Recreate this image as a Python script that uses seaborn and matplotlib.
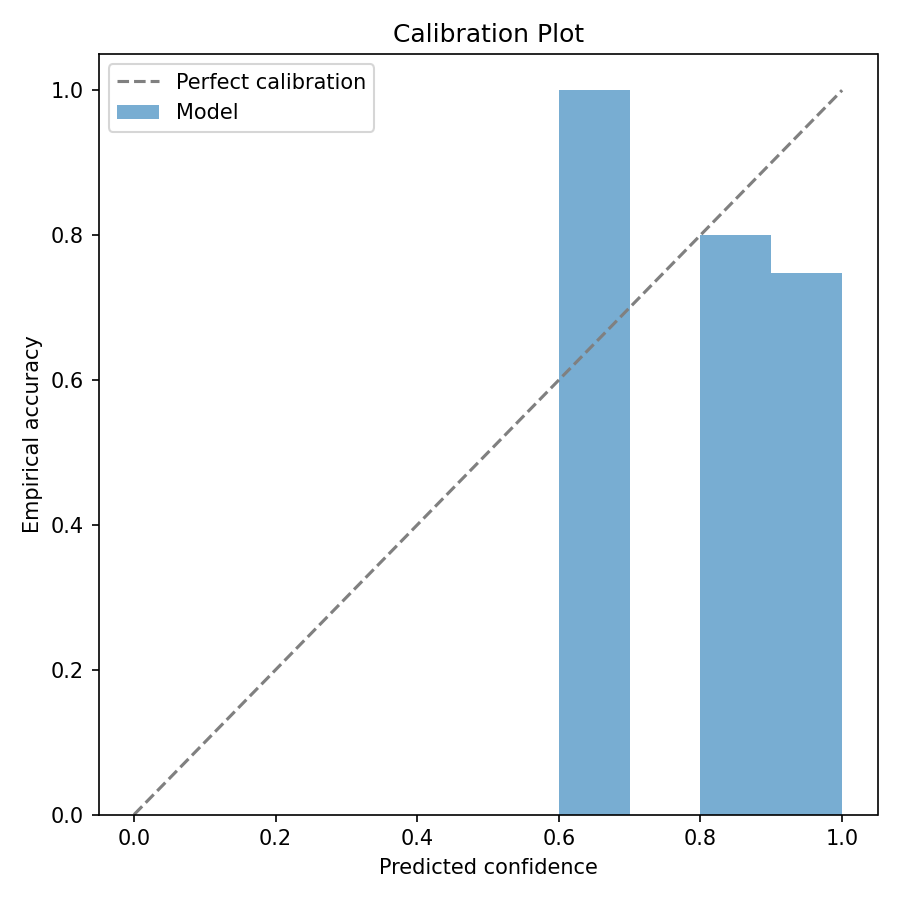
import numpy as np
import matplotlib
matplotlib.use("Agg")
import matplotlib.pyplot as plt
import seaborn as sns

bin_edges = [0.0, 0.1, 0.2, 0.3, 0.4, 0.5, 0.6, 0.7, 0.8, 0.9, 1.0]
bin_centers = [0.65, 0.85, 0.95]
accuracy = [1.0, 0.8, 0.748]
diag = [0.0, 1.0]

fig, ax = plt.subplots(figsize=(6, 6), dpi=150)
sns.lineplot(x=diag, y=diag, ax=ax, color="gray", linestyle="--", label="Perfect calibration")
sns.histplot(x=bin_centers, weights=accuracy, bins=bin_edges, ax=ax, color="tab:blue",
             alpha=0.6, edgecolor="none", linewidth=0, label="Model")
ax.set_xlabel("Predicted confidence")
ax.set_ylabel("Empirical accuracy")
ax.set_title("Calibration Plot")
ax.set_ylim(0, 1.05)
ax.set_xlim(-0.05, 1.05)
ax.legend(loc="upper left")
fig.tight_layout()
fig.savefig("out.png", dpi=150)
